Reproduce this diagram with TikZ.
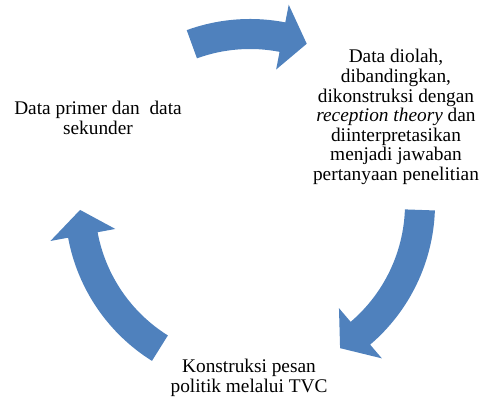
\documentclass[tikz,border=0pt]{standalone}
\usepackage{fontspec}
\setmainfont{Liberation Serif}
\definecolor{cycblue}{HTML}{4F81BD}
\begin{document}
\begin{tikzpicture}[x=0.75pt,y=0.75pt,
  cyc arrow/.style={fill=cycblue},
  cyc text/.style={align=center,inner sep=0pt,font=\fontsize{14.5}{14.7}\selectfont}]
  \useasboundingbox (-250,-194) rectangle (233,204);

  \path (146,87)   node[cyc text] (olah)   {Data diolah,\\dibandingkan,\\dikonstruksi dengan\\\textit{reception theory} dan\\diinterpretasikan\\menjadi jawaban\\pertanyaan penelitian}
        (-152,86)  node[cyc text] (primer) {Data primer dan\ \ data\\sekunder}
        (-1,-174)  node[cyc text] (tvc)    {Konstruksi pesan\\politik melalui TVC};

  % block arrows of the cycle
  \fill[cyc arrow] (110:185) arc[start angle=110,end angle=79,radius=185]
    -- (79:203) -- (70.5:170) -- (79:137) -- (79:155)
    arc[start angle=79,end angle=110,radius=155] -- cycle;
  \fill[cyc arrow] (-2:185) arc[start angle=-2,end angle=-49.5,radius=185]
    -- (-49.5:203) -- (-58:170) -- (-49.5:137) -- (-49.5:155)
    arc[start angle=-49.5,end angle=-2,radius=155] -- cycle;
  \fill[cyc arrow] (238:185) arc[start angle=238,end angle=190.5,radius=185]
    -- (190.5:203) -- (182:170) -- (190.5:137) -- (190.5:155)
    arc[start angle=190.5,end angle=238,radius=155] -- cycle;
\end{tikzpicture}
\end{document}
